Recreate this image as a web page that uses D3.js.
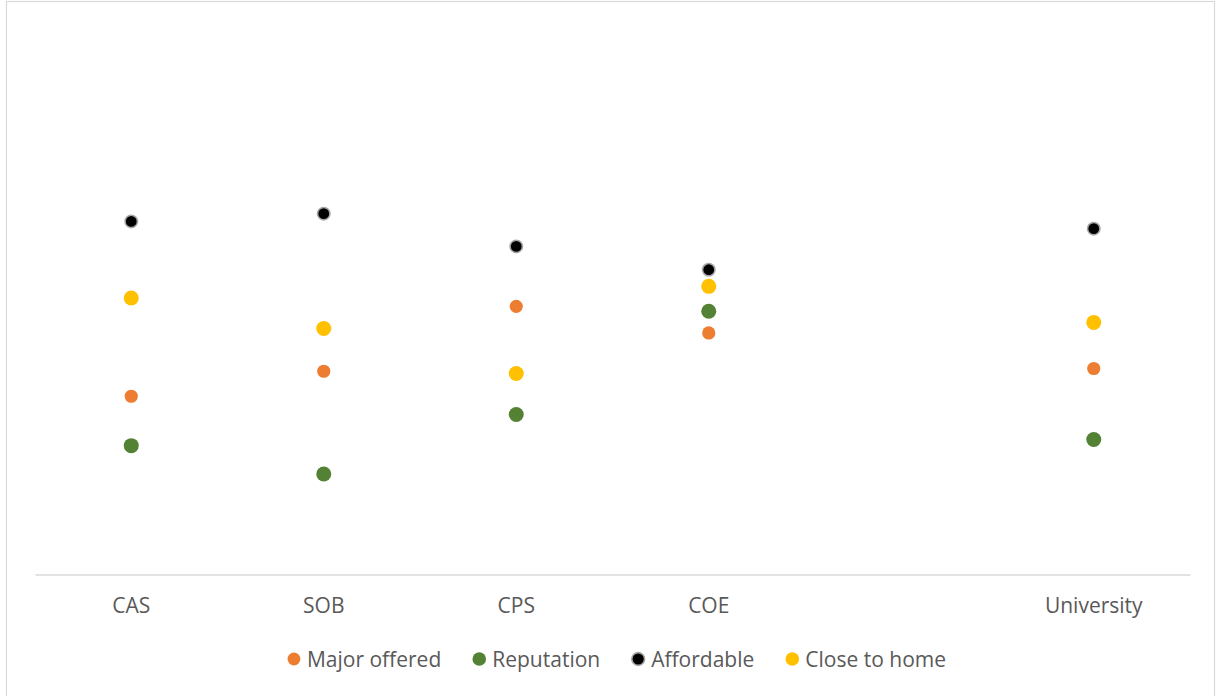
<!DOCTYPE html>
<html>
<head>
<meta charset="utf-8">
<script src="https://cdn.jsdelivr.net/npm/d3@7"></script>
<style>
  html, body { margin: 0; padding: 0; background: #fff; }
  svg { display: block; }
</style>
</head>
<body>
<svg id="chart" width="1216" height="696"></svg>
<script>
// ---- data ----
const categories = ["CAS", "SOB", "CPS", "COE", " ", "University"];
const seriesNames = ["Major offered", "Reputation", "Affordable", "Close to home"];
const majorOffered = [32.3, 36.8, 48.5, 43.7, null, 37.3];
const reputation   = [23.4, 18.3, 29.0, 47.6, null, 24.5];
const affordable   = [63.8, 65.2, 59.3, 55.1, null, 62.5];
const closeToHome  = [50.0, 44.5, 36.4, 52.1, null, 45.6];

const seriesValues = [majorOffered, reputation, affordable, closeToHome];
const seriesStyle = [
  { fill: "#ED7D31", r: 6.6, stroke: "none", sw: 0 },
  { fill: "#548235", r: 7.5, stroke: "none", sw: 0 },
  { fill: "#000000", r: 6.2, stroke: "#A6A6A6", sw: 1.6 },
  { fill: "#FFC000", r: 7.5, stroke: "none", sw: 0 }
];

const svg = d3.select("#chart");
const font = "'Open Sans', sans-serif";
const textColor = "#595959";
const fontSize = "21px";

// chart border
svg.append("rect")
  .attr("x", 6.5).attr("y", 1.5)
  .attr("width", 1208).attr("height", 720)
  .attr("fill", "#fff").attr("stroke", "#D9D9D9").attr("stroke-width", 1.2);

const axisY = 574.5;
const x = d3.scaleBand().domain(categories).range([35, 1190]).padding(0);
const y = d3.scaleLinear().domain([0, 100]).range([575.5, 20.5]);

// axis
const xAxis = d3.axisBottom(x).tickSize(0).tickPadding(24);
const gx = svg.append("g").attr("transform", `translate(0,${axisY})`).call(xAxis);
gx.select(".domain").attr("stroke", "#D9D9D9").attr("stroke-width", 1.6);
gx.selectAll("text")
  .attr("fill", textColor)
  .style("font-family", font)
  .style("font-size", fontSize);

// points
seriesValues.forEach((vals, si) => {
  const st = seriesStyle[si];
  svg.append("g").selectAll("circle")
    .data(categories.map((c, i) => ({ c, v: vals[i] })).filter(d => d.v != null))
    .join("circle")
    .attr("cx", d => x(d.c) + x.bandwidth() / 2)
    .attr("cy", d => y(d.v))
    .attr("r", st.r)
    .attr("fill", st.fill)
    .attr("stroke", st.stroke)
    .attr("stroke-width", st.sw);
});

// legend
const legend = svg.append("g");
const items = legend.selectAll("g").data(seriesNames).join("g");
items.append("circle")
  .attr("r", (d, i) => seriesStyle[i].r > 7 ? 6.8 : 6.4)
  .attr("cx", 0).attr("cy", 0)
  .attr("fill", (d, i) => seriesStyle[i].fill)
  .attr("stroke", (d, i) => seriesStyle[i].stroke)
  .attr("stroke-width", (d, i) => seriesStyle[i].sw);
items.append("text")
  .attr("x", 13).attr("y", 0).attr("dy", "0.36em")
  .attr("fill", textColor)
  .style("font-family", font)
  .style("font-size", fontSize)
  .text(d => d);

let offs = [], cur = 0;
items.each(function(d, i) {
  const tw = d3.select(this).select("text").node().getComputedTextLength();
  offs.push(cur);
  cur += 13 + tw + 38;
});
const totalW = cur - 38 + 7;
const startX = 616.5 - totalW / 2 + 7;
items.attr("transform", (d, i) => `translate(${startX + offs[i]},659)`);
</script>
</body>
</html>
